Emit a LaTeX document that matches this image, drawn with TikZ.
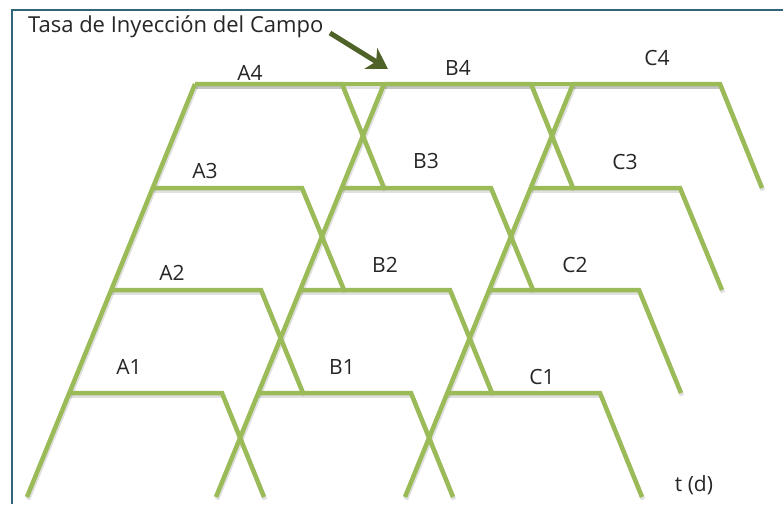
\documentclass[tikz,border=0pt]{standalone}
\usepackage{fontspec}
\setmainfont{Open Sans}
\usetikzlibrary{arrows.meta}
\definecolor{lineg}{HTML}{9BBB59}
\definecolor{arrg}{HTML}{4F6228}
\definecolor{framec}{HTML}{31657A}
\newcommand\netpaths[1]{%
  \foreach \c/\bx in {A/27,B/216,C/405}{
    \coordinate (\c0) at (\bx,497);
    \coordinate (\c T) at (\bx+168,84);
    \draw[#1] (\c0) -- (\c T);
    \foreach \k/\yk/\yp/\w in {1/393/497/153, 2/290/393/150, 3/188/290/149, 4/84/188/147}{
      \coordinate (\c\k L) at (\bx+42*\k,\yk);
      \coordinate (\c\k R) at (\bx+42*\k+\w,\yk);
      \coordinate (\c\k D) at (\bx+42*\k+\w+42,\yp);
      \draw[#1] (\c\k L) -- (\c\k R) -- (\c\k D);
    }
  }
  \draw[#1] (A4L) -- (C4R);
}
\begin{document}
\begin{tikzpicture}[x=1pt,y=-1pt,
  gl/.style={draw=lineg, line width=4.5pt},
  glshadow/.style={draw=black, opacity=0.12, line width=4.5pt,
    transform canvas={xshift=1pt,yshift=-2.5pt}},
  lbl/.style={font=\fontsize{21}{21}\selectfont, inner sep=0pt, text=black!85},
  framel/.style={draw=framec, line width=2pt},
  arr/.style={draw=arrg, line width=5pt, -{Stealth[length=20pt,width=24pt,inset=6pt]}}]
\useasboundingbox (0,0) rectangle (783,504);
\fill[white] (0,0) rectangle (783,504);
\draw[framel] (783,10) -- (12,10) -- (12,504);
\netpaths{glshadow}
\netpaths{gl}
% labels
\node[lbl] (lA1) at (129,367) {A1};
\node[lbl] (lB1) at (342,367) {B1};
\node[lbl] (lC1) at (542,377) {C1};
\node[lbl] (lA2) at (172,273) {A2};
\node[lbl] (lB2) at (385,265) {B2};
\node[lbl] (lC2) at (575,265) {C2};
\node[lbl] (lA3) at (205,171) {A3};
\node[lbl] (lB3) at (426,161) {B3};
\node[lbl] (lC3) at (625,162) {C3};
\node[lbl] (lA4) at (250,73) {A4};
\node[lbl] (lB4) at (458,68) {B4};
\node[lbl] (lC4) at (657,58) {C4};
\node[lbl, font=\fontsize{22}{22}\selectfont, anchor=west] (title) at (28,27) {Tasa de Inyección del Campo};
\node[lbl] (tlab) at (694,485) {t (d)};
\coordinate (arrtail) at (330,33);
\coordinate (arrtip) at (388,69);
\draw[arr] (arrtail) -- (arrtip);
\end{tikzpicture}
\end{document}
